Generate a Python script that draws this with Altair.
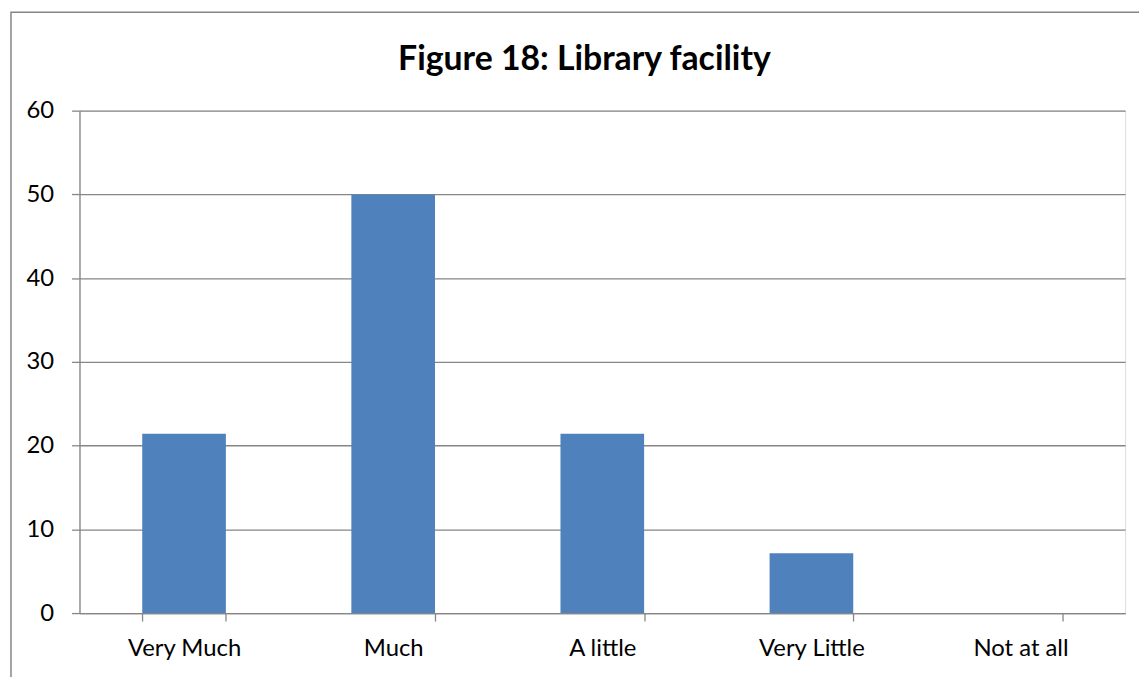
import altair as alt
import pandas as pd

categories = ["Very Much", "Much", "A little", "Very Little", "Not at all"]
values = [21.43, 50.0, 21.43, 7.14, 0.0]
title_text = "Figure 18: Library facility"

df = pd.DataFrame({"category": categories, "value": values})

GRAY = "#868686"
W, H = 1053, 506

bars = alt.Chart(df).mark_bar(color="#4F81BD").encode(
    x=alt.X("category:N", sort=categories, title=None,
            scale=alt.Scale(paddingInner=0.6, paddingOuter=0.3),
            axis=alt.Axis(labelAngle=0, tickBand="extent", domainColor=GRAY, tickColor=GRAY,
                          tickSize=8, labelPadding=16, labelFont="Lato", labelFontSize=24,
                          labelColor="#000000", grid=False, domainWidth=1.3, tickWidth=1.3)),
    y=alt.Y("value:Q", title=None,
            scale=alt.Scale(domain=[0, 60], nice=False),
            axis=alt.Axis(values=[0, 10, 20, 30, 40, 50, 60], domainColor=GRAY, tickColor=GRAY,
                          tickSize=8, labelPadding=18, labelFont="Lato", labelFontSize=24,
                          labelColor="#000000", gridColor=GRAY, gridWidth=1.3, grid=True,
                          domainWidth=1.3, tickWidth=1.3)),
)

border = alt.Chart(pd.DataFrame({"a": [0]})).mark_rect(
    filled=False, stroke=GRAY, strokeWidth=1.5
).encode(
    x=alt.value(-69), x2=alt.value(W + 200), y=alt.value(-99), y2=alt.value(H + 200)
)

chart = alt.layer(bars, border).properties(
    width=W, height=H,
    title=alt.TitleParams(title_text, font="Lato", fontSize=34, fontWeight="bold",
                          color="#000000", anchor="middle", dx=-18, offset=-66),
    autosize=alt.AutoSizeParams(type="none"),
    padding={"left": 72, "top": 101, "right": 14, "bottom": 62},
).configure_view(stroke=None).configure(background="white")

chart.save("out.html", embed_options={"renderer": "svg", "actions": False})
